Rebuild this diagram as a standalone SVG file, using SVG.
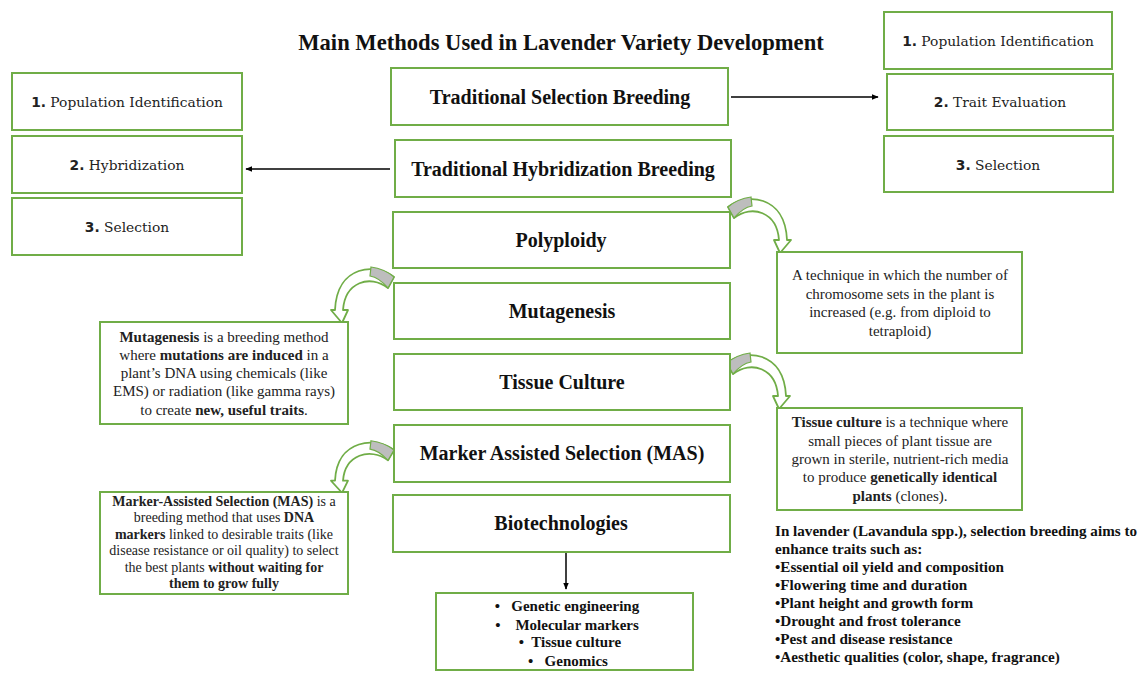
<svg xmlns="http://www.w3.org/2000/svg" width="1144" height="673" viewBox="0 0 1144 673">
<defs>
<style>
.box{fill:#fff;stroke:#70AD47;stroke-width:2}
.main{font-family:"Liberation Serif",serif;font-weight:bold;font-size:20px;fill:#111;text-anchor:middle}
.step{font-family:"DejaVu Serif",serif;font-size:13.8px;fill:#222;text-anchor:middle}
.num{font-family:"DejaVu Sans",sans-serif;font-weight:bold}
.desc{font-family:"Liberation Serif",serif;font-size:15px;fill:#222;text-anchor:middle}
.desc14{font-size:14px}
.b{font-weight:bold}
.list{font-family:"Liberation Serif",serif;font-weight:bold;font-size:15px;fill:#111}
.traits{font-family:"Liberation Serif",serif;font-weight:bold;font-size:15.2px;fill:#111}
.conn{stroke:#000;stroke-width:1.5;fill:none}
.carrow{fill:#fff;stroke:#70AD47;stroke-width:1.8;stroke-linejoin:round}
.cgray{fill:#bdbdbd;stroke:#70AD47;stroke-width:1.2}
</style>
<marker id="ah" viewBox="0 0 10 10" refX="9" refY="5" markerWidth="7" markerHeight="7" orient="auto-start-reverse" markerUnits="userSpaceOnUse">
<path d="M0,1 L10,5 L0,9 Z" fill="#000"/>
</marker>
<g id="curved">
<path class="carrow" d="M728,207 C745,193 785,194 787,240 L791,240 L780,253 L774,240 L779,240 C777,212 752,204 734,218 Z"/>
<path class="cgray" d="M728,207 C735,201 743,198 751,197 L752,206 C746,207 740,211 734,218 Z"/>
</g>
</defs>

<text id="title" x="561" y="50" font-family="Liberation Serif, serif" font-weight="bold" font-size="22.6" fill="#111" text-anchor="middle">Main Methods Used in Lavender Variety Development</text>

<g id="connectors">
<line class="conn" x1="731" y1="97" x2="878" y2="97" marker-end="url(#ah)"/>
<line class="conn" x1="390" y1="169" x2="246" y2="169" marker-end="url(#ah)"/>
<line class="conn" x1="566" y1="553" x2="566" y2="589" marker-end="url(#ah)"/>
<use href="#curved"/>
<use href="#curved" transform="translate(-1,156)"/>
<use href="#curved" transform="translate(1122,70) scale(-1,1)"/>
<use href="#curved" transform="translate(1122,257.5) scale(-1,0.93)"/>
</g>

<g id="left1"><rect class="box" x="12" y="73" width="230" height="57"/><text class="step" x="127" y="107"><tspan class="num">1.</tspan> Population Identification</text></g>
<g id="left2"><rect class="box" x="12" y="136" width="230" height="57"/><text class="step" x="127" y="170"><tspan class="num">2.</tspan> Hybridization</text></g>
<g id="left3"><rect class="box" x="12" y="198" width="230" height="57"/><text class="step" x="127" y="232"><tspan class="num">3.</tspan> Selection</text></g>

<g id="right1"><rect class="box" x="884" y="12" width="228" height="57"/><text class="step" x="998" y="46"><tspan class="num">1.</tspan> Population Identification</text></g>
<g id="right2"><rect class="box" x="887" y="74" width="226" height="56"/><text class="step" x="1000" y="107"><tspan class="num">2.</tspan> Trait Evaluation</text></g>
<g id="right3"><rect class="box" x="884" y="136" width="229" height="56"/><text class="step" x="998" y="170"><tspan class="num">3.</tspan> Selection</text></g>

<g id="tsb"><rect class="box" x="391" y="68" width="337" height="57"/><text class="main" x="560" y="104">Traditional Selection Breeding</text></g>
<g id="thb"><rect class="box" x="395" y="140" width="336" height="57"/><text class="main" x="563" y="176">Traditional Hybridization Breeding</text></g>
<g id="poly"><rect class="box" x="393" y="212" width="337" height="56"/><text class="main" x="561" y="247">Polyploidy</text></g>
<g id="muta"><rect class="box" x="394" y="283" width="336" height="56"/><text class="main" x="562" y="318">Mutagenesis</text></g>
<g id="tissue"><rect class="box" x="394" y="354" width="336" height="56"/><text class="main" x="562" y="389">Tissue Culture</text></g>
<g id="mas"><rect class="box" x="394" y="425" width="336" height="57"/><text class="main" x="562" y="460">Marker Assisted Selection (MAS)</text></g>
<g id="biotech"><rect class="box" x="393" y="495" width="337" height="57"/><text class="main" x="561" y="530">Biotechnologies</text></g>

<g id="biolist"><rect class="box" x="436" y="593" width="257" height="77"/>
<text class="list" x="567" y="611" text-anchor="middle" xml:space="preserve">•   Genetic engineering</text>
<text class="list" x="567" y="630" text-anchor="middle" xml:space="preserve">•    Molecular markers</text>
<text class="list" x="570" y="647" text-anchor="middle" xml:space="preserve">•  Tissue culture</text>
<text class="list" x="568" y="666" text-anchor="middle" xml:space="preserve">•   Genomics</text>
</g>

<g id="polydesc"><rect class="box" x="777" y="252" width="245" height="101"/>
<text class="desc" x="900" y="280">A technique in which the number of</text>
<text class="desc" x="900" y="299">chromosome sets in the plant is</text>
<text class="desc" x="900" y="317">increased (e.g. from diploid to</text>
<text class="desc" x="900" y="336">tetraploid)</text>
</g>

<g id="mutadesc"><rect class="box" x="100" y="322" width="248" height="102"/>
<text class="desc" x="224" y="342"><tspan class="b">Mutagenesis</tspan> is a breeding method</text>
<text class="desc" x="224" y="360">where <tspan class="b">mutations are induced</tspan> in a</text>
<text class="desc" x="224" y="378">plant’s DNA using chemicals (like</text>
<text class="desc" x="224" y="396">EMS) or radiation (like gamma rays)</text>
<text class="desc" x="224" y="415">to create <tspan class="b">new, useful traits</tspan>.</text>
</g>

<g id="tissuedesc"><rect class="box" x="777" y="408" width="245" height="102"/>
<text class="desc" x="900" y="427"><tspan class="b">Tissue culture</tspan> is a technique where</text>
<text class="desc" x="900" y="446">small pieces of plant tissue are</text>
<text class="desc" x="900" y="464">grown in sterile, nutrient-rich media</text>
<text class="desc" x="900" y="482">to produce <tspan class="b">genetically identical</tspan></text>
<text class="desc" x="900" y="501"><tspan class="b">plants</tspan> (clones).</text>
</g>

<g id="masdesc"><rect class="box" x="100" y="492" width="248" height="102"/>
<text class="desc desc14" x="224" y="506"><tspan class="b">Marker-Assisted Selection (MAS)</tspan> is a</text>
<text class="desc desc14" x="224" y="522">breeding method that uses <tspan class="b">DNA</tspan></text>
<text class="desc desc14" x="224" y="539"><tspan class="b">markers</tspan> linked to desirable traits (like</text>
<text class="desc desc14" x="224" y="555">disease resistance or oil quality) to select</text>
<text class="desc desc14" x="224" y="572">the best plants <tspan class="b">without waiting for</tspan></text>
<text class="desc desc14" x="224" y="588"><tspan class="b">them to grow fully</tspan></text>
</g>

<g id="traits">
<text class="traits" x="775" y="536" textLength="362" lengthAdjust="spacingAndGlyphs">In lavender (Lavandula spp.), selection breeding aims to</text>
<text class="traits" x="775" y="554">enhance traits such as:</text>
<text class="traits" x="775" y="572">•Essential oil yield and composition</text>
<text class="traits" x="775" y="590">•Flowering time and duration</text>
<text class="traits" x="775" y="608">•Plant height and growth form</text>
<text class="traits" x="775" y="626">•Drought and frost tolerance</text>
<text class="traits" x="775" y="644">•Pest and disease resistance</text>
<text class="traits" x="775" y="662">•Aesthetic qualities (color, shape, fragrance)</text>
</g>
</svg>
